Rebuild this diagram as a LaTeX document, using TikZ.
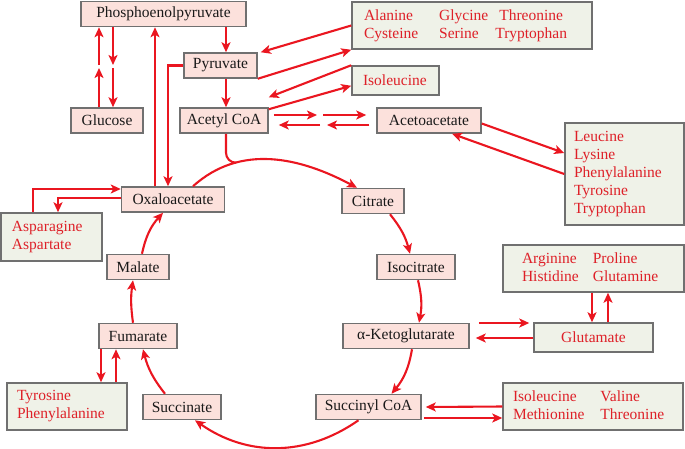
\documentclass[tikz,border=0pt]{standalone}
\usepackage{amsmath}
\usepackage{fontspec}
\setmainfont{Liberation Serif}
\usetikzlibrary{arrows.meta,calc}

\definecolor{arrowred}{RGB}{234,22,32}
\definecolor{labelred}{RGB}{222,32,40}
\definecolor{boxpink}{RGB}{252,225,220}
\definecolor{boxgreen}{RGB}{239,242,232}
\definecolor{boxgray}{RGB}{112,112,112}

\tikzset{
	metab/.style={draw=boxgray,fill=boxpink,line width=1.5pt,inner sep=0pt,minimum height=25pt,text=black!90,font=\fontsize{15.5}{18}\selectfont},
	amino/.style={draw=boxgray,fill=boxgreen,line width=1.5pt,inner sep=0pt,text=labelred,align=left,font=\fontsize{15.5}{18}\selectfont},
	redline/.style={draw=arrowred,line width=2.1pt},
	flow/.style={redline,-{Stealth[length=10pt,width=9pt,inset=2.5pt]}},
}

\begin{document}
\begin{tikzpicture}[x=1pt,y=1pt]
	\useasboundingbox (0,0) rectangle (685,-448);
	% metabolites
	\node[metab,minimum width=165] at (163.5,-14) (pep) {Phosphoenolpyruvate};
	\node[metab,minimum width=73] at (220.5,-65.5) (pyr) {Pyruvate};
	\node[metab,minimum width=72] at (107,-120.5) (glc) {Glucose};
	\node[metab,minimum width=88] at (224,-120.5) (acoa) {Acetyl CoA};
	\node[metab,minimum width=104] at (429,-120.5) (aceto) {Acetoacetate};
	\node[metab,minimum width=103] at (173,-199.5) (oxa) {Oxaloacetate};
	\node[metab,minimum width=62] at (373,-201) (cit) {Citrate};
	\node[metab,minimum width=62] at (138,-267) (mal) {Malate};
	\node[metab,minimum width=78] at (416,-267) (iso) {Isocitrate};
	\node[metab,minimum width=78] at (138,-336) (fum) {Fumarate};
	\node[metab,minimum width=126] at (406,-336) (akg) {α-Ketoglutarate};
	\node[metab,minimum width=78] at (182,-407) (succ) {Succinate};
	\node[metab,minimum width=105] at (368.5,-407) (scoa) {Succinyl CoA};
	% amino acids
	\node[amino,minimum width=240,minimum height=47,text width=216] at (472,-25.5) (ala)
		{\begin{tabular}{@{}l@{\hspace{21pt}}l@{\hspace{7pt}}c@{}}Alanine & Glycine & Threonine\\Cysteine & Serine & Tryptophan\end{tabular}};
	\node[amino,minimum width=87,minimum height=29,text width=65] at (395.5,-80.5) (ile) {Isoleucine};
	\node[amino,minimum width=119,minimum height=102,text width=101] at (624.5,-174) (leu)
		{Leucine\\Lysine\\Phenylalanine\\Tyrosine\\Tryptophan};
	\node[amino,minimum width=101,minimum height=48,text width=79] at (51.5,-237) (asn) {Asparagine\\Aspartate};
	\node[amino,minimum width=181,minimum height=47,text width=143] at (593.5,-268.5) (arg)
		{\begin{tabular}{@{}l@{\hspace{14pt}}l@{}}Arginine & Proline\\Histidine & Glutamine\end{tabular}};
	\node[amino,minimum width=119,minimum height=29] at (593.5,-337.5) (glu) {Glutamate};
	\node[amino,minimum width=120,minimum height=47,text width=100] at (67,-406.5) (tyr) {Tyrosine\\Phenylalanine};
	\node[amino,minimum width=180,minimum height=47,text width=160] at (593,-406.5) (ilev)
		{\begin{tabular}{@{}l@{\hspace{16pt}}l@{}}Isoleucine & Valine\\Methionine & Threonine\end{tabular}};
	% gluconeogenesis
	\coordinate (gl) at (99,-66.5);
	\coordinate (gr) at (113,-66.5);
	\draw[flow] (glc.north -| gl) -- ([yshift=-1.5pt]gl);
	\draw[flow] ([yshift=1.5pt]gl) -- (pep.south -| gl);
	\draw[flow] (pep.south -| gr) -- ([yshift=1.5pt]gr);
	\draw[flow] ([yshift=-1.5pt]gr) -- (glc.north -| gr);
	\draw[flow] ([xshift=5.5pt]pyr.north |- pep.south) -- ([xshift=5.5pt]pyr.north);
	\draw[flow] ([xshift=5.5pt]pyr.south) -- ([xshift=5.5pt]pyr.south |- acoa.north);
	\draw[flow] ([xshift=-18pt]oxa.north) -- ([xshift=-18pt]oxa.north |- pep.south);
	\draw[flow] (pyr.west) -| ([xshift=-5pt]oxa.north);
	% links to amino acids
	\draw[flow] (ala.west) -- ([xshift=3pt]pyr.north east);
	\draw[flow] (pyr.south east) -- (ala.south west);
	\draw[flow] (ile.north west) -- ([yshift=10pt]acoa.north east);
	\draw[flow] ([yshift=-2pt]acoa.north east) -- ([yshift=10pt]ile.south west);
	\coordinate (am) at (320,-120.5);
	\draw[flow] ([shift={(5pt,5.5pt)}]acoa.east) -- ([shift={(-3pt,5.5pt)}]am);
	\draw[flow] ([shift={(3pt,5.5pt)}]am) -- ([shift={(-10pt,5.5pt)}]aceto.west);
	\draw[flow] ([shift={(-7pt,-4.5pt)}]aceto.west) -- ([shift={(7pt,-4.5pt)}]am);
	\draw[flow] ([shift={(0pt,-4.5pt)}]am) -- ([shift={(10pt,-4.5pt)}]acoa.east);
	\draw[flow] ([yshift=-3pt]aceto.east) -- ([yshift=21pt]leu.west);
	\draw[flow] (leu.west) -- ([xshift=23pt]aceto.south);
	\draw[flow] ([xshift=-18.5pt]asn.north) |- ([yshift=10.5pt]oxa.west);
	\draw[flow] ([yshift=1.5pt]oxa.west) -| ([xshift=6.5pt]asn.north);
	\draw[flow] ([xshift=-37pt]fum.south) -- ([xshift=-37pt]fum.south |- tyr.north);
	\draw[flow] ([xshift=-22pt]fum.south |- tyr.north) -- ([xshift=-22pt]fum.south);
	\draw[flow] ([shift={(9pt,13pt)}]akg.east) -- ([shift={(-4pt,14.5pt)}]glu.west);
	\draw[flow] ([yshift=-0.5pt]glu.west) -- ([shift={(6pt,-2pt)}]akg.east);
	\draw[flow] ([xshift=-1.5pt]arg.south) -- ([xshift=-1.5pt]glu.north);
	\draw[flow] ([xshift=14.5pt]glu.north) -- ([xshift=14.5pt]arg.south);
	\draw[flow] (ilev.west) -- ([xshift=4pt]scoa.east);
	\draw[flow] ([shift={(2pt,-11pt)}]scoa.east) -- ([yshift=-11.5pt]ilev.west);
	% citric acid cycle
	\draw[flow] ([xshift=20pt]oxa.north) to[out=42,in=152] coordinate[pos=0.28] (join) ([xshift=-16pt]cit.north);
	\draw[redline,rounded corners=10pt] ([xshift=2pt]acoa.south) |- (join);
	\draw[flow] ([xshift=17pt]cit.south) to[bend left=12] ([xshift=-6pt]iso.north);
	\draw[flow] ([xshift=2pt]iso.south) to[bend left=12] ([xshift=13pt]akg.north);
	\draw[flow] ([xshift=6pt]akg.south) to[bend left=15] ([xshift=23pt]scoa.north);
	\draw[flow] ([xshift=-10pt]scoa.south) to[bend left=35] ([xshift=13pt]succ.south);
	\draw[flow] ([xshift=-17pt]succ.north) to[bend left=12] ([xshift=5pt]fum.south);
	\draw[flow] ([xshift=-5pt]fum.north) to[bend left=8] ([xshift=-5pt]mal.south);
	\draw[flow] ([xshift=4pt]mal.north) to[bend left=15] ([xshift=-10pt]oxa.south);
\end{tikzpicture}
\end{document}
